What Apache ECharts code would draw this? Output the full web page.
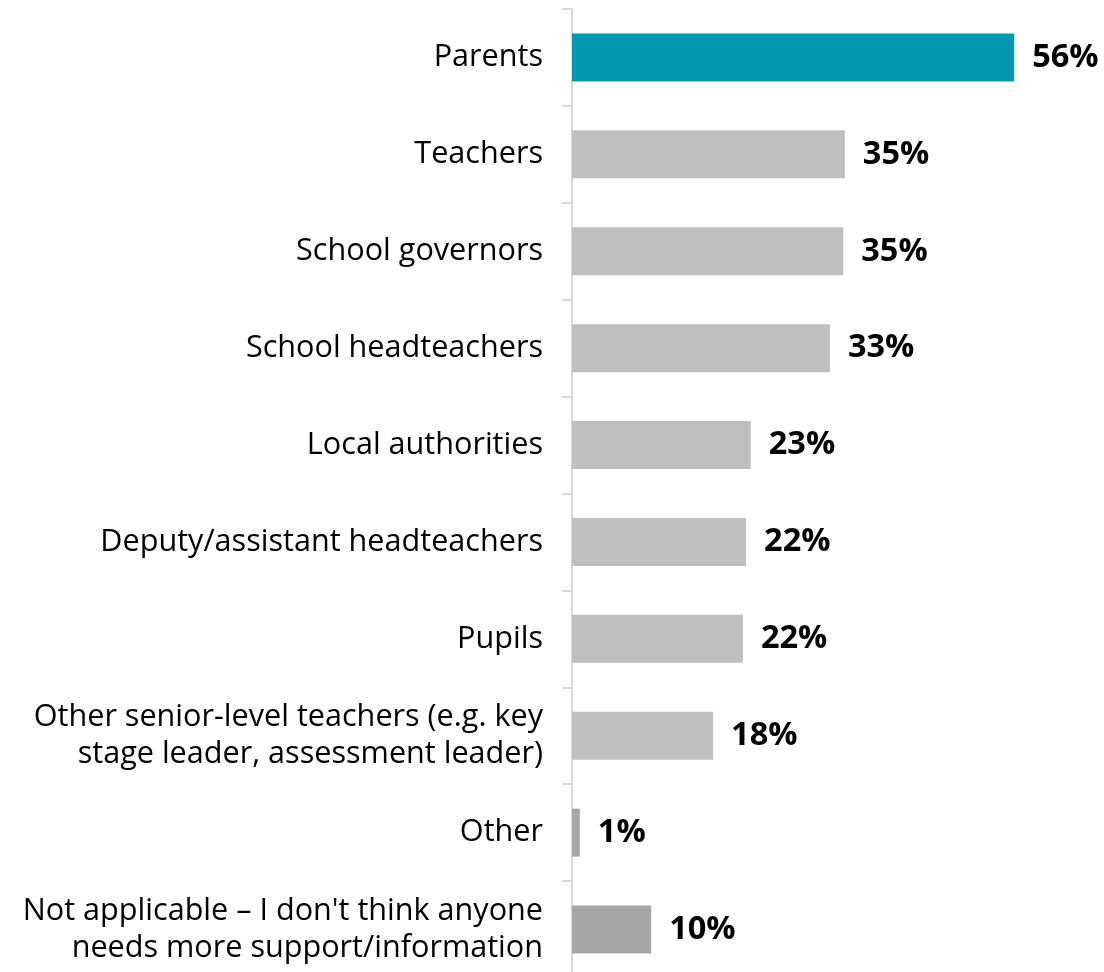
<!DOCTYPE html>
<html>
<head>
<meta charset="utf-8">
<script src="https://cdn.jsdelivr.net/npm/echarts@6/dist/echarts.min.js"></script>
<style>
html,body{margin:0;padding:0;background:#fff;overflow:hidden;}
#chart{width:1104px;height:978px;}
</style>
</head>
<body>
<div id="chart"></div>
<script>
const categories = [
  "Parents",
  "Teachers",
  "School governors",
  "School headteachers",
  "Local authorities",
  "Deputy/assistant headteachers",
  "Pupils",
  "Other senior-level teachers (e.g. key\nstage leader, assessment leader)",
  "Other",
  "Not applicable \u2013 I don't think anyone\nneeds more support/information"
];
const values = [56.4, 34.8, 34.6, 32.9, 22.8, 22.2, 21.8, 18.0, 1.0, 10.1];
const barColors = ["#0499B0", "#BFBFBF", "#BFBFBF", "#BFBFBF", "#BFBFBF", "#BFBFBF", "#BFBFBF", "#BFBFBF", "#A6A6A6", "#A6A6A6"];

const chart = echarts.init(document.getElementById('chart'), null, {renderer: 'canvas'});
chart.setOption({
  animation: false,
  backgroundColor: '#ffffff',
  grid: {left: 572, right: 61.6, top: 9, bottom: 0, containLabel: false},
  xAxis: {
    type: 'value', min: 0, max: 60, show: false
  },
  yAxis: {
    type: 'category',
    inverse: true,
    data: categories,
    axisLine: {show: true, lineStyle: {color: '#D9D9D9', width: 2}},
    axisTick: {show: true, length: 10, lineStyle: {color: '#D9D9D9', width: 2}},
    axisLabel: {
      margin: 29,
      fontFamily: 'Open Sans',
      fontSize: 30.6,
      color: '#000000',
      align: 'right',
      lineHeight: 37
    },
    splitLine: {show: false}
  },
  series: [{
    type: 'bar',
    barWidth: 48,
    data: values.map((v, i) => ({value: v, itemStyle: {color: barColors[i]}})),
    label: {
      show: true,
      position: 'right',
      distance: 18,
      fontFamily: 'Open Sans',
      fontWeight: 'bold',
      fontSize: 32.5,
      color: '#000000',
      formatter: p => Math.round(p.value) + '%'
    }
  }]
});
</script>
</body>
</html>
